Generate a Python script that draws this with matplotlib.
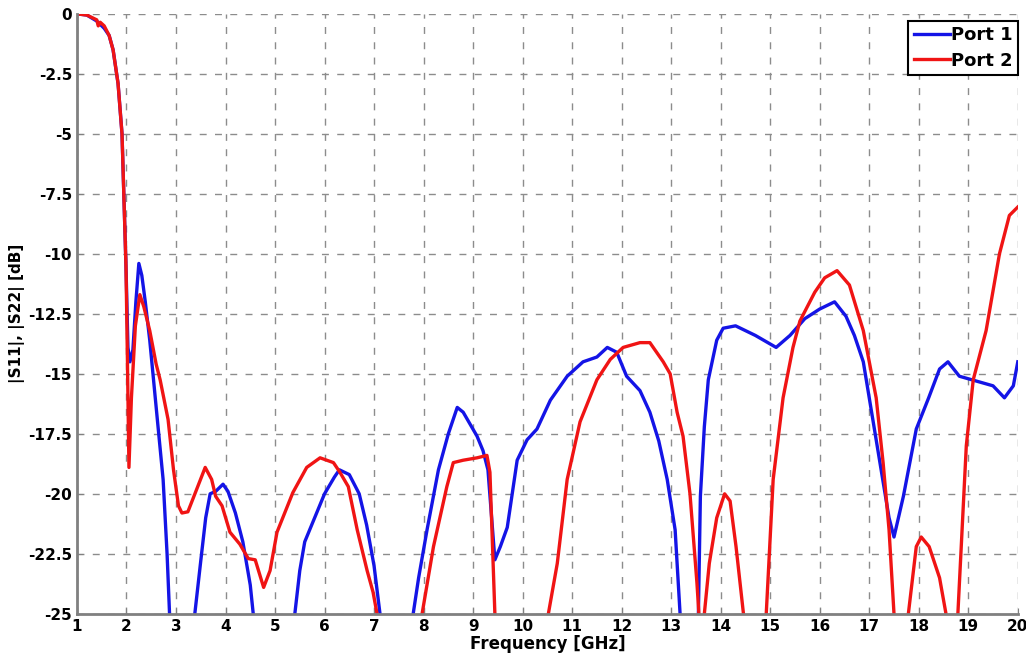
import numpy as np
import matplotlib.pyplot as plt
from matplotlib.ticker import FormatStrFormatter, MultipleLocator

# Port 1 (|S11|), читаем с картинки; значения ниже -25 уходят за ось
f1 = [1.0, 1.2, 1.4, 1.55, 1.65, 1.73, 1.83, 1.91, 1.95, 1.99, 2.03, 2.07, 2.13,
      2.19, 2.25, 2.31, 2.38, 2.47, 2.6, 2.74, 2.82, 2.88, 3.3, 3.38, 3.5, 3.6,
      3.69, 3.8, 3.95, 4.05, 4.2, 4.35, 4.5, 4.56, 4.65, 5.3, 5.4, 5.5, 5.6, 5.8,
      6.0, 6.2, 6.3, 6.5, 6.7, 6.85, 7.0, 7.12, 7.2, 7.7, 7.79, 7.9, 8.07, 8.3,
      8.5, 8.68, 8.8, 9.08, 9.2, 9.3, 9.44, 9.55, 9.69, 9.89, 10.09, 10.29, 10.56,
      10.9, 11.22, 11.5, 11.71, 11.9, 12.1, 12.37, 12.57, 12.75, 12.92, 13.08,
      13.18, 13.25, 13.5, 13.55, 13.59, 13.67, 13.75, 13.92, 14.05, 14.3, 14.7,
      15.12, 15.4, 15.7, 16.0, 16.3, 16.53, 16.7, 16.88, 17.14, 17.4, 17.5, 17.69,
      17.95, 18.2, 18.42, 18.59, 18.82, 19.16, 19.5, 19.73, 19.91, 20.0]
s11 = [0.0, -0.05, -0.3, -0.6, -0.9, -1.5, -2.9, -5.0, -7.75, -10.5, -13.9, -14.5, -14.0,
       -12.0, -10.4, -10.9, -12.0, -13.6, -16.4, -19.4, -22.5, -25.5, -26.0, -25.0, -22.8, -21.0,
       -20.0, -19.9, -19.6, -19.9, -20.8, -22.0, -23.8, -25.0, -26.0, -26.0, -25.0, -23.2, -22.0, -21.0,
       -20.0, -19.3, -19.0, -19.2, -20.0, -21.3, -23.0, -25.0, -26.0, -26.0, -25.0, -23.5, -21.5, -19.0,
       -17.5, -16.4, -16.6, -17.6, -18.2, -19.0, -22.75, -22.2, -21.4, -18.6, -17.75, -17.3, -16.1,
       -15.1, -14.5, -14.3, -13.9, -14.1, -15.1, -15.7, -16.6, -17.8, -19.4, -21.5,
       -25.0, -26.0, -26.0, -25.0, -20.1, -17.2, -15.25, -13.6, -13.1, -13.0, -13.4,
       -13.9, -13.4, -12.7, -12.3, -12.0, -12.6, -13.4, -14.5, -17.75, -21.0, -21.8, -20.1,
       -17.3, -16.0, -14.8, -14.5, -15.1, -15.3, -15.5, -16.0, -15.5, -14.5]

# Port 2 (|S22|)
f2 = [1.0, 1.2, 1.4, 1.43, 1.47, 1.55, 1.65, 1.73, 1.83, 1.91, 1.95, 1.99, 2.02, 2.05,
      2.1, 2.18, 2.27, 2.35, 2.47, 2.6, 2.68, 2.84, 2.95, 3.05, 3.12, 3.24, 3.42,
      3.59, 3.72, 3.8, 3.93, 4.09, 4.29, 4.46, 4.6, 4.77, 4.9, 5.04, 5.36, 5.64,
      5.91, 6.18, 6.31, 6.48, 6.66, 6.86, 6.98, 7.06, 7.12, 7.9, 7.97, 8.2, 8.47,
      8.6, 8.8, 9.08, 9.28, 9.34, 9.44, 9.5, 10.45, 10.52, 10.7, 10.9, 11.16, 11.5,
      11.77, 12.03, 12.37, 12.57, 12.84, 12.98, 13.12, 13.24, 13.38, 13.52, 13.56,
      13.63, 13.67, 13.77, 13.92, 14.08, 14.19, 14.31, 14.46, 14.5, 14.88, 14.92,
      15.06, 15.26, 15.46, 15.6, 15.9, 16.1, 16.35, 16.6, 16.88, 17.14, 17.28, 17.4,
      17.5, 17.55, 17.75, 17.79, 17.95, 18.05, 18.21, 18.42, 18.55, 18.6, 18.75,
      18.79, 18.96, 19.1, 19.36, 19.63, 19.83, 20.0]
s22 = [0.0, -0.05, -0.25, -0.5, -0.35, -0.5, -0.9, -1.5, -2.9, -5.0, -7.75, -10.5, -14.5, -18.9,
       -16.0, -13.0, -11.7, -12.2, -13.2, -14.6, -15.25, -16.9, -19.0, -20.5, -20.8, -20.75, -19.8,
       -18.9, -19.4, -20.1, -20.5, -21.6, -22.1, -22.7, -22.75, -23.9, -23.2, -21.6, -19.95, -18.9,
       -18.5, -18.7, -19.1, -19.7, -21.5, -23.2, -24.1, -25.0, -26.0, -26.0, -25.0, -22.2, -19.7,
       -18.7, -18.6, -18.5, -18.4, -19.1, -25.0, -26.0, -26.0, -25.0, -22.9, -19.4, -17.0, -15.25,
       -14.4, -13.9, -13.7, -13.7, -14.5, -15.0, -16.6, -17.6, -20.0, -23.7, -25.0,
       -26.0, -25.0, -22.9, -21.0, -20.0, -20.3, -22.2, -25.0, -26.0, -26.0, -25.0,
       -19.4, -16.0, -13.9, -12.8, -11.6, -11.0, -10.7, -11.3, -13.2, -16.0, -18.7, -21.5,
       -25.0, -26.0, -26.0, -25.0, -22.2, -21.8, -22.2, -23.5, -25.0, -26.0, -26.0,
       -25.0, -18.0, -15.25, -13.2, -10.0, -8.4, -8.05]

fig = plt.figure(figsize=(10.26, 6.6), dpi=100)
ax = fig.add_axes([0.075, 0.07, 0.917, 0.909])

ax.plot(f1, s11, color='#1414e6', linewidth=2.4, label='Port 1')
ax.plot(f2, s22, color='#f01414', linewidth=2.4, label='Port 2')

ax.set_xlim(1, 20)
ax.set_ylim(-25, 0)
ax.xaxis.set_major_locator(MultipleLocator(1))
ax.yaxis.set_major_locator(MultipleLocator(2.5))
ax.yaxis.set_major_formatter(FormatStrFormatter('%g'))

ax.grid(True, linestyle=(0, (5, 6)), color='#8c8c8c', linewidth=1)
for s in ['top', 'right']:
    ax.spines[s].set_visible(False)
for s in ['left', 'bottom']:
    ax.spines[s].set_color('#808080')
    ax.spines[s].set_linewidth(2)

ax.tick_params(direction='in', length=4, color='#808080', labelsize=11)
for lab in ax.get_xticklabels() + ax.get_yticklabels():
    lab.set_fontweight('bold')

ax.set_xlabel('Frequency [GHz]', fontsize=12, fontweight='bold', labelpad=1)
ax.set_ylabel('|S11|, |S22| [dB]', fontsize=11, fontweight='bold', labelpad=2)

leg = ax.legend(loc='upper right', bbox_to_anchor=(1.0, 0.988), borderaxespad=0,
                fancybox=False, framealpha=1, edgecolor='black',
                prop={'size': 13, 'weight': 'bold'}, handlelength=2.0,
                handletextpad=0.05, borderpad=0.3, labelspacing=0.4)
leg.get_frame().set_linewidth(1.5)

fig.savefig('out.png', dpi=100)
